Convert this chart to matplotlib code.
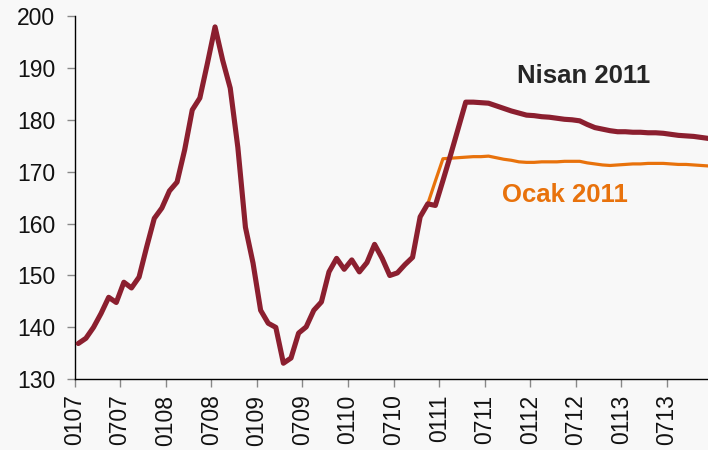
import matplotlib
matplotlib.use("Agg")
import matplotlib.pyplot as plt
import numpy as np

plt.rcParams['font.family'] = ['Liberation Sans', 'DejaVu Sans']

tick_labels = ["0107", "0707", "0108", "0708", "0109", "0709", "0110",
               "0710", "0111", "0711", "0112", "0712", "0113", "0713"]

history = [136.9, 137.9, 140.0, 142.7, 145.8, 144.8, 148.7, 147.6, 149.7, 155.5,
           161.0, 163.0, 166.3, 168.0, 174.2, 181.9, 184.2, 190.9, 197.9, 191.5,
           186.1, 174.7, 159.3, 152.4, 143.3, 140.8, 140.0, 133.1, 134.1, 138.9,
           140.1, 143.3, 144.9, 150.7, 153.3, 151.2, 153.0, 150.7, 152.5, 156.0,
           153.3, 150.0, 150.5, 152.1, 153.5, 161.3, 163.8]

nisan_forecast = [163.5, 168.3, 173.2, 178.3, 183.4, 183.4, 183.3, 183.2, 182.7, 182.2,
                  181.7, 181.3, 180.9, 180.8, 180.6, 180.5, 180.3, 180.1, 180.0, 179.8,
                  179.1, 178.5, 178.2, 177.9, 177.7, 177.7, 177.6, 177.6, 177.5, 177.5,
                  177.4, 177.2, 177.0, 176.9, 176.8, 176.6, 176.4]

ocak_forecast = [168.2, 172.5, 172.6, 172.7, 172.8, 172.9, 172.9, 173.0, 172.7, 172.4,
                 172.2, 171.9, 171.8, 171.8, 171.9, 171.9, 171.9, 172.0, 172.0, 172.0,
                 171.7, 171.5, 171.3, 171.2, 171.3, 171.4, 171.5, 171.5, 171.6, 171.6,
                 171.6, 171.5, 171.4, 171.4, 171.3, 171.2, 171.1]

nisan = history + nisan_forecast
ocak = history + ocak_forecast

maroon = "#8B1F2F"
orange = "#E8720C"
bg = "#F8F8F8"

fig = plt.figure(figsize=(7.08, 4.50), dpi=100, facecolor=bg)
ax = fig.add_axes([74.5 / 708, 70.7 / 450, 1 - 74.5 / 708, (379.3 - 16) / 450])
ax.set_facecolor(bg)

x = np.arange(len(nisan)) + 0.5
ax.plot(x, ocak, color=orange, lw=2.3, solid_joinstyle='round', zorder=2)
ax.plot(x, nisan, color=maroon, lw=3.7, solid_joinstyle='round', solid_capstyle='round', zorder=3)

ax.set_xlim(0, 83.39)
ax.set_ylim(130, 200)
ax.set_yticks(np.arange(130, 201, 10))
ax.set_xticks(np.arange(len(tick_labels)) * 6)
ax.set_xticklabels(tick_labels, rotation=90)

for s in ['top', 'right']:
    ax.spines[s].set_visible(False)
for s in ['left', 'bottom']:
    ax.spines[s].set_color('black')
    ax.spines[s].set_linewidth(1.0)

ax.tick_params(axis='both', direction='out', length=6, width=1, color='#888888',
               labelsize=16.5, labelcolor='#111111')
ax.tick_params(axis='y', pad=8)
ax.tick_params(axis='x', pad=5)

ax.text(67.0, 188.4, "Nisan 2011", color="#262626", fontsize=18.5,
        fontweight='bold', ha='center', va='center')
ax.text(64.6, 165.6, "Ocak 2011", color=orange, fontsize=18.5,
        fontweight='bold', ha='center', va='center')

fig.savefig("out.png", dpi=100, facecolor=bg)
